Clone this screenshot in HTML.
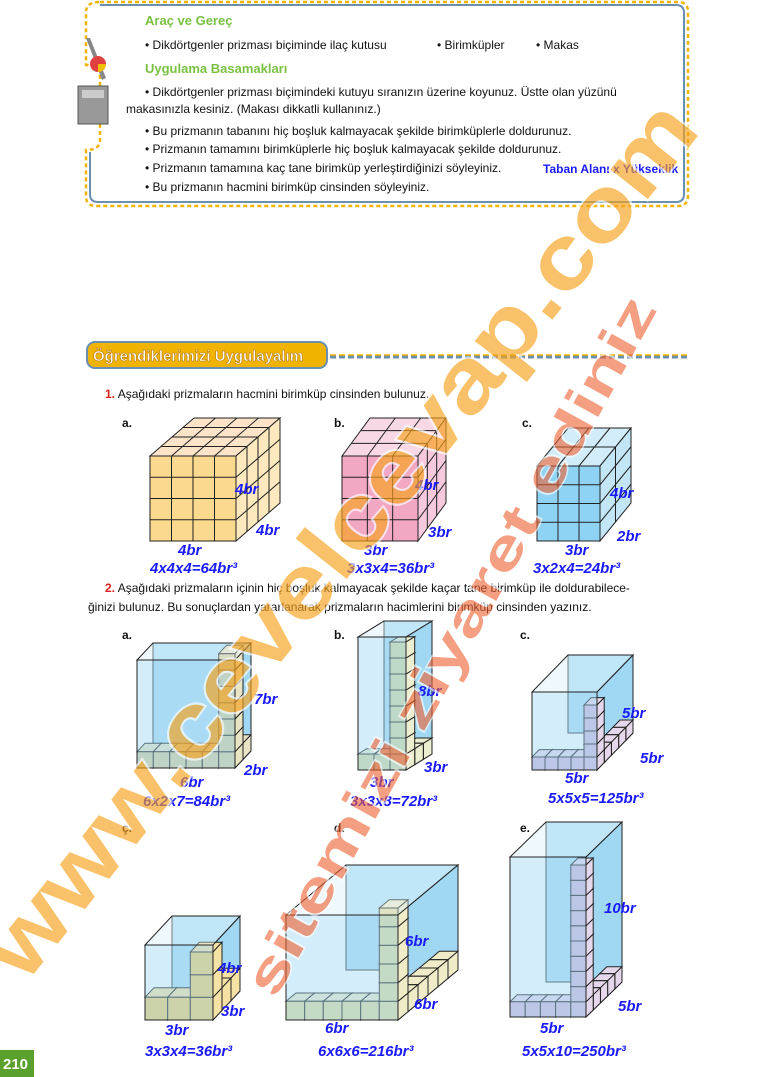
<!DOCTYPE html>
<html><head><meta charset="utf-8"><style>
html,body{margin:0;padding:0;background:#fff;}
body{width:775px;height:1077px;position:relative;overflow:hidden;font-family:"Liberation Sans",sans-serif;}
svg{position:absolute;left:0;top:0;}
</style></head><body>
<svg id="s" width="775" height="1077" viewBox="0 0 775 1077" xmlns="http://www.w3.org/2000/svg">
<path d="M100,2 H678 Q688,2 688,12 V196 Q688,206 678,206 H96 Q86,206 86,196 V150 Q100,150 100,140 V75 Q100,65 86,65 V12 Q86,2 100,2 Z" fill="#fff" stroke="#f0b400" stroke-width="2.5" stroke-dasharray="4 3"/>
<path d="M100,5 H676 Q684,5 684,13 V194 Q684,202 676,202 H98 Q90,202 90,194 V152" fill="none" stroke="#6a8fb0" stroke-width="2"/>
<g font-size="12" fill="#111">
<text x="145" y="25" font-weight="bold" fill="#7ac143" font-size="13">Araç ve Gereç</text>
<text x="145" y="49">• Dikdörtgenler prizması biçiminde ilaç kutusu</text>
<text x="437" y="49">• Birimküpler</text>
<text x="536" y="49">• Makas</text>
<text x="145" y="73" font-weight="bold" fill="#7ac143" font-size="13">Uygulama Basamakları</text>
<text x="145" y="96">• Dikdörtgenler prizması biçimindeki kutuyu sıranızın üzerine koyunuz. Üstte olan yüzünü</text>
<text x="126" y="113">makasınızla kesiniz. (Makası dikkatli kullanınız.)</text>
<text x="145" y="135">• Bu prizmanın tabanını hiç boşluk kalmayacak şekilde birimküplerle doldurunuz.</text>
<text x="145" y="153">• Prizmanın tamamını birimküplerle hiç boşluk kalmayacak şekilde doldurunuz.</text>
<text x="145" y="172">• Prizmanın tamamına kaç tane birimküp yerleştirdiğinizi söyleyiniz.</text>
<text x="145" y="191">• Bu prizmanın hacmini birimküp cinsinden söyleyiniz.</text>
</g>
<text x="543" y="173" font-size="12" fill="#1a1aff" font-weight="bold">Taban Alanı x Yükseklik</text>
<g transform="translate(76,38)"><rect x="2" y="48" width="30" height="38" fill="#999" stroke="#555"/><rect x="6" y="52" width="22" height="8" fill="#ccc"/><polygon points="10,0 14,0 30,40 26,42" fill="#888"/><circle cx="22" cy="26" r="8" fill="#e04040"/><path d="M22,26 L30,26 A8,8 0 0 1 22,34Z" fill="#f0c000"/></g>
<rect x="87" y="342" width="240" height="26" rx="8" fill="#f0b400" stroke="#6a8fb0" stroke-width="2"/>
<text x="93" y="361" font-size="15" font-weight="bold" fill="#fff" stroke="#b07000" stroke-width="0.5">Öğrendiklerimizi Uygulayalım</text>
<line x1="330" y1="357" x2="690" y2="357" stroke="#6a8fb0" stroke-width="3" stroke-dasharray="6 3"/>
<line x1="330" y1="355" x2="690" y2="355" stroke="#f0b400" stroke-width="1.5" stroke-dasharray="6 3"/>
<g font-size="12" fill="#111">
<text x="105" y="398"><tspan fill="#e02020" font-weight="bold">1.</tspan>  Aşağıdaki prizmaların hacmini birimküp cinsinden bulunuz.</text>
<text x="122" y="427" font-weight="bold">a.</text><text x="334" y="427" font-weight="bold">b.</text><text x="522" y="427" font-weight="bold">c.</text>
<text x="105" y="592"><tspan fill="#e02020" font-weight="bold">2.</tspan>  Aşağıdaki prizmaların içinin hiç boşluk kalmayacak şekilde kaçar tane birimküp ile doldurabilece-</text>
<text x="88" y="611">ğinizi bulunuz. Bu sonuçlardan yararlanarak prizmaların hacimlerini birimküp cinsinden yazınız.</text>
<text x="122" y="639" font-weight="bold">a.</text><text x="334" y="639" font-weight="bold">b.</text><text x="520" y="639" font-weight="bold">c.</text>
<text x="122" y="832" font-weight="bold">ç.</text><text x="334" y="832" font-weight="bold">d.</text><text x="520" y="832" font-weight="bold">e.</text>
</g>
<g id="g"></g>
<g font-size="15" fill="#1a1aff" font-weight="bold" font-style="italic">
<text x="235" y="494">4br</text><text x="256" y="535">4br</text><text x="178" y="555">4br</text><text x="150" y="573">4x4x4=64br³</text>
<text x="415" y="490">4br</text><text x="428" y="537">3br</text><text x="364" y="555">3br</text><text x="347" y="573">3x3x4=36br³</text>
<text x="610" y="498">4br</text><text x="617" y="541">2br</text><text x="565" y="555">3br</text><text x="533" y="573">3x2x4=24br³</text>
<text x="254" y="704">7br</text><text x="244" y="775">2br</text><text x="180" y="787">6br</text><text x="143" y="806">6x2x7=84br³</text>
<text x="418" y="696">8br</text><text x="424" y="772">3br</text><text x="370" y="787">3br</text><text x="350" y="806">3x3x8=72br³</text>
<text x="622" y="718">5br</text><text x="640" y="763">5br</text><text x="565" y="783">5br</text><text x="548" y="803">5x5x5=125br³</text>
<text x="218" y="973">4br</text><text x="221" y="1016">3br</text><text x="165" y="1035">3br</text><text x="145" y="1056">3x3x4=36br³</text>
<text x="405" y="946">6br</text><text x="414" y="1009">6br</text><text x="325" y="1033">6br</text><text x="318" y="1056">6x6x6=216br³</text>
<text x="604" y="913">10br</text><text x="618" y="1011">5br</text><text x="540" y="1033">5br</text><text x="522" y="1056">5x5x10=250br³</text>
</g>
<g opacity="0.65" font-weight="bold" fill="#f7a21b" stroke="#fff" stroke-width="4" paint-order="stroke">
<text transform="translate(25,985) rotate(-51.6)" font-size="90" textLength="1090" lengthAdjust="spacingAndGlyphs">www.cevelcevap.com</text>
</g>
<g opacity="0.6" font-weight="bold" fill="#f06030" stroke="#fff" stroke-width="3" paint-order="stroke">
<text transform="translate(275,1000) rotate(-61)" font-size="54" textLength="790" lengthAdjust="spacingAndGlyphs">sitemizi ziyaret ediniz</text>
</g>
<rect x="0" y="1050" width="34" height="27" fill="#5aa02c"/>
<text x="3" y="1069" font-size="15" font-weight="bold" fill="#fff">210</text>
</svg>
<script>
var g=document.getElementById('g'),NS='http://www.w3.org/2000/svg';
function P(pts,f,st,sw,op){var e=document.createElementNS(NS,'polygon');e.setAttribute('points',pts.map(p=>p[0].toFixed(1)+','+p[1].toFixed(1)).join(' '));e.setAttribute('fill',f);e.setAttribute('stroke',st||'#222');e.setAttribute('stroke-width',sw||1);if(op!=null)e.setAttribute('fill-opacity',op);g.appendChild(e);}
function L(a,b){var e=document.createElementNS(NS,'line');e.setAttribute('x1',a[0]);e.setAttribute('y1',a[1]);e.setAttribute('x2',b[0]);e.setAttribute('y2',b[1]);e.setAttribute('stroke','#222');e.setAttribute('stroke-width',1);g.appendChild(e);}
function grid(o,u,v,nu,nv,f){P([o,[o[0]+u[0],o[1]+u[1]],[o[0]+u[0]+v[0],o[1]+u[1]+v[1]],[o[0]+v[0],o[1]+v[1]]],f);
for(var i=1;i<nu;i++)L([o[0]+u[0]*i/nu,o[1]+u[1]*i/nu],[o[0]+u[0]*i/nu+v[0],o[1]+u[1]*i/nu+v[1]]);
for(var j=1;j<nv;j++)L([o[0]+v[0]*j/nv,o[1]+v[1]*j/nv],[o[0]+v[0]*j/nv+u[0],o[1]+v[1]*j/nv+u[1]]);}
function cube(x,y,w,h,dx,dy,nx,ny,nz,cf,ct,cr){
grid([x,y],[w,0],[dx,dy],nx,nz,ct);grid([x+w,y+h],[dx,dy],[0,-h],nz,ny,cr);grid([x,y+h],[w,0],[0,-h],nx,ny,cf);}
cube(150,456,86,85,44,-38,4,4,4,'#fbd98f','#fde3c8','#fde9bd');
cube(342,456,76,85,28,-38,3,4,3,'#f2a7c3','#f8d8e4','#f7c9dc');
cube(537,466,63,75,31,-38,3,4,2,'#8fd3f4','#d2edf9','#c3e6f7');
function hol(x,y,w,h,dx,dy,nx,ny,nz,cc,ct){
P([[x+dx,y+dy],[x+dx+w,y+dy],[x+dx+w,y+dy+h],[x+dx,y+dy+h]],'#a9dcf5','#333',1,0.9);
P([[x+w,y],[x+w+dx,y+dy],[x+w+dx,y+dy+h],[x+w,y+h]],'#9fd6f3','#333',1,0.9);
var s=w/nx,ddx=dx/nz,ddy=dy/nz;
function c(cx,cy){grid([cx,cy],[s,0],[ddx,ddy],1,1,ct);grid([cx+s,cy+s],[ddx,ddy],[0,-s],1,1,ct);grid([cx,cy+s],[s,0],[0,-s],1,1,cc);}
for(var k=nz-1;k>=1;k--)c(x+w-s+k*ddx,y+h-s+k*ddy);
for(var i=0;i<nx;i++)c(x+i*s,y+h-s);
var col=Math.min(ny,Math.round(h/s));for(var j=1;j<col;j++)c(x+w-s,y+h-(j+1)*s);
P([[x,y],[x+w,y],[x+w,y+h],[x,y+h]],'#9fd8f4','#222',1,0.45);
P([[x,y],[x+w,y],[x+w+dx,y+dy],[x+dx,y+dy]],'#d8f0fb','#222',1,0.4);
L([x+w+dx,y+dy],[x+w+dx,y+dy+h]);}
hol(137,660,98,108,16,-17,6,7,2,'#d8cfa0','#e9e4c4');
hol(358,637,48,133,26,-16,3,8,3,'#d8dba5','#eceed0');
hol(532,692,65,78,36,-37,5,5,5,'#d3b8dc','#e6d8ec');
hol(145,945,68,75,27,-29,3,4,3,'#f0cf6e','#f7e2a6');
hol(286,915,112,105,60,-50,6,6,6,'#e3dd9e','#f0ecc8');
hol(510,857,76,160,36,-35,5,10,5,'#d3b8dc','#e6d8ec');
</script>
</body></html>
